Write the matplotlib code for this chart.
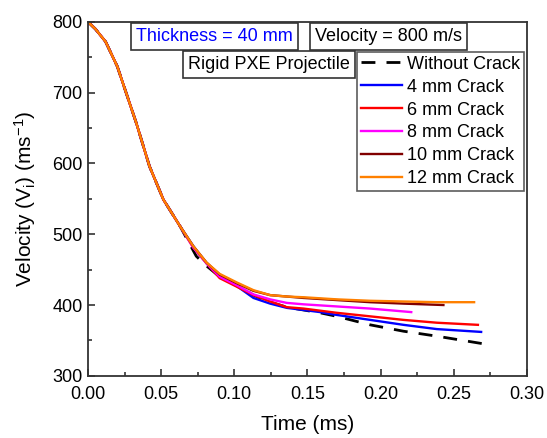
import matplotlib
matplotlib.use("Agg")
import matplotlib.pyplot as plt
from matplotlib.ticker import MultipleLocator

plt.rcParams['font.family'] = ['Liberation Sans', 'DejaVu Sans']
plt.rcParams['mathtext.default'] = 'regular'

# shared early part of all curves
t_common = [0.0, 0.005, 0.012, 0.020, 0.026, 0.033, 0.042, 0.0515, 0.063]
v_common = [800, 790, 772, 737, 700, 657, 596, 549, 511]

t_nocrack = t_common + [0.074, 0.080, 0.090, 0.1016, 0.1131, 0.1245, 0.1359, 0.1473,
                        0.1587, 0.1701, 0.1929, 0.2157, 0.2385, 0.271]
v_nocrack = v_common + [469, 457, 440, 428, 414, 404, 397, 393,
                        389, 384, 372, 363, 356, 345]

t_4mm = t_common + [0.072, 0.081, 0.090, 0.1016, 0.1131, 0.1245, 0.1359, 0.1473,
                    0.1587, 0.1701, 0.1929, 0.2157, 0.2385, 0.2688]
v_4mm = v_common + [483, 459, 440, 427, 410, 402, 396, 393,
                    390, 386, 379, 372, 366, 362]

t_6mm = t_common + [0.072, 0.081, 0.090, 0.1016, 0.1131, 0.1245, 0.1359, 0.1473,
                    0.1587, 0.1701, 0.1929, 0.2157, 0.2385, 0.2666]
v_6mm = v_common + [481, 459, 438, 426, 414, 405, 397, 395,
                    392, 389, 384, 379, 375, 372]

t_8mm = t_common + [0.072, 0.081, 0.090, 0.1016, 0.1131, 0.1245, 0.1359, 0.1473,
                    0.1701, 0.1929, 0.221]
v_8mm = v_common + [481, 459, 440, 428, 415, 408, 403, 401,
                    398, 395, 390]

t_10mm = t_common + [0.072, 0.081, 0.090, 0.1016, 0.1131, 0.1245, 0.1359, 0.1473,
                     0.1701, 0.1929, 0.2157, 0.243]
v_10mm = v_common + [483, 460, 443, 431, 420, 414, 412, 410,
                     407, 404, 402, 400]

t_12mm = t_common + [0.072, 0.081, 0.090, 0.1016, 0.1131, 0.1245, 0.1359, 0.1473,
                     0.1701, 0.1929, 0.2157, 0.2385, 0.264]
v_12mm = v_common + [483, 460, 444, 432, 421, 414, 412, 411,
                     408, 406, 405, 404, 404]

fig = plt.figure(figsize=(5.47, 4.38), dpi=100)
ax = fig.add_axes([0.161, 0.142, 0.802, 0.808])

ax.plot(t_nocrack, v_nocrack, color='black', lw=2, ls=(0, (5, 4)), label='Without Crack')
ax.plot(t_4mm, v_4mm, color='#0000ff', lw=1.7, label='4 mm Crack')
ax.plot(t_6mm, v_6mm, color='#ff0000', lw=1.7, label='6 mm Crack')
ax.plot(t_8mm, v_8mm, color='#ff00ff', lw=1.7, label='8 mm Crack')
ax.plot(t_10mm, v_10mm, color='#800000', lw=1.7, label='10 mm Crack')
ax.plot(t_12mm, v_12mm, color='#ff8000', lw=1.7, label='12 mm Crack')

ax.set_xlim(0, 0.30)
ax.set_ylim(300, 800)
ax.xaxis.set_major_locator(MultipleLocator(0.05))
ax.xaxis.set_minor_locator(MultipleLocator(0.025))
ax.yaxis.set_major_locator(MultipleLocator(100))
ax.yaxis.set_minor_locator(MultipleLocator(50))
ax.xaxis.set_major_formatter(plt.FormatStrFormatter('%.2f'))
ax.tick_params(which='both', direction='in', labelsize=13, color='#333333')
ax.tick_params(which='major', length=5, width=1.2)
ax.tick_params(which='minor', length=3, width=1.2)
ax.tick_params(axis='x', pad=7)
ax.tick_params(axis='y', pad=4)
for s in ax.spines.values():
    s.set_linewidth(1.3)
    s.set_color('#333333')

ax.set_xlabel('Time (ms)', fontsize=15, labelpad=9)
ax.set_ylabel('Velocity (V$_i$) (ms$^{-1}$)', fontsize=15, labelpad=10)

box = dict(boxstyle='square,pad=0.28', fc='white', ec='#333333', lw=1.2)
ax.text(0.288, 0.960, 'Thickness = 40 mm', color='#0000ff', fontsize=13,
        ha='center', va='center', transform=ax.transAxes, bbox=box)
ax.text(0.684, 0.960, 'Velocity = 800 m/s', color='black', fontsize=13,
        ha='center', va='center', transform=ax.transAxes, bbox=box)
ax.text(0.413, 0.880, 'Rigid PXE Projectile', color='black', fontsize=13,
        ha='center', va='center', transform=ax.transAxes, bbox=box)

leg = ax.legend(loc='upper right', bbox_to_anchor=(0.993, 0.915), borderaxespad=0,
                fontsize=13, frameon=True, fancybox=False, edgecolor='#333333',
                handlelength=2.3, handletextpad=0.25, labelspacing=0.33,
                borderpad=0.2)
leg.get_frame().set_linewidth(1.2)

fig.savefig('out.png', dpi=100)
